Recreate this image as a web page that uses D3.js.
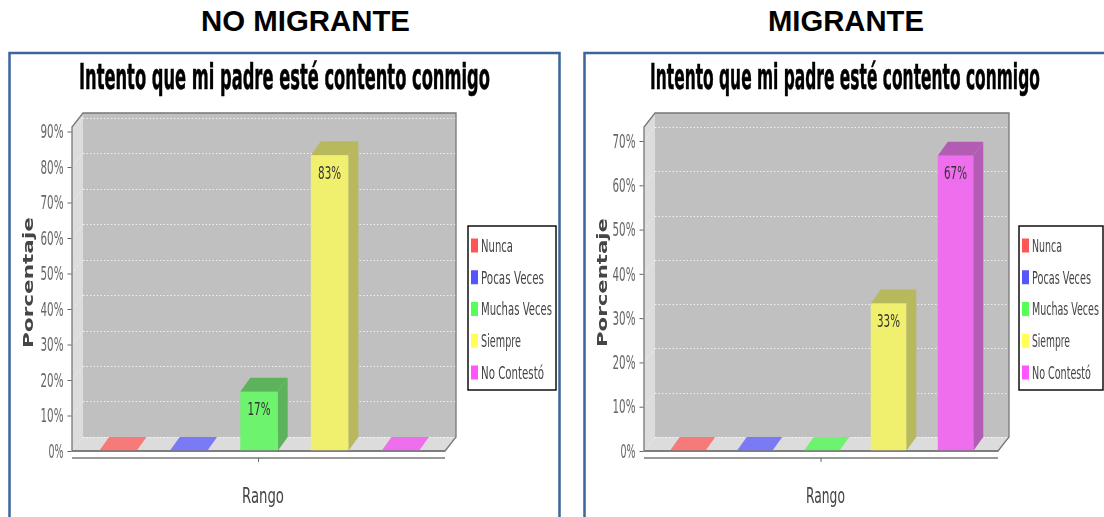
<!DOCTYPE html>
<html><head><meta charset="utf-8">
<style>html,body{margin:0;padding:0;background:#fff}svg{display:block}</style>
<script src="https://cdnjs.cloudflare.com/ajax/libs/d3/7.8.5/d3.min.js"></script>
</head><body>
<svg id="c" width="1104" height="517"></svg>
<script>
const categories = ["Nunca","Pocas Veces","Muchas Veces","Siempre","No Contestó"];
const headings = ["NO MIGRANTE","MIGRANTE"];
const chartTitle = "Intento que mi padre esté contento conmigo";
const valuesNoMigrante = [0,0,16.67,83.33,0];
const valuesMigrante = [0,0,0,33.33,66.67];
const labelsNoMigrante = ["","","17%","83%",""];
const labelsMigrante = ["","","","33%","67%"];
const ticksNoMigrante = [0,10,20,30,40,50,60,70,80,90];
const ticksMigrante = [0,10,20,30,40,50,60,70];
const frontColors = ["#f77a7a","#7a7af7","#6ef36e","#f0f06e","#ee6eee"];
const topColors = ["#f77a7a","#7a7af7","#5cb35c","#b8b85c","#b35cb3"];
const sideColors = ["#c46060","#6060c4","#5cb35c","#b8b85c","#b35cb3"];
const legendColors = ["#ff5555","#5555ff","#55ff55","#ffff55","#ff55ff"];

const layouts = [
 {panel:[9.5,53,550],head:[201,209],title:[79,411],x0:72,x1:445,barL:82.5,barR:435.5,yMax:90,yPx:[451,131.5],ylabel:[33,282.5,131],
  rango:[242,42],legend:[468,88,481],legendW:[32,63,71,40,63],values:valuesNoMigrante,labels:labelsNoMigrante,ticks:ticksNoMigrante},
 {panel:[584.5,53,560],head:[768,156],title:[650,390],x0:644,x1:998,barL:654,barR:989,yMax:70,yPx:[451,141],ylabel:[607,282.5,129],
  rango:[806,39],legend:[1019,84,1032],legendW:[30,59,67,38,59],values:valuesMigrante,labels:labelsMigrante,ticks:ticksMigrante}
];
const DX=11, DY=14;
const svg=d3.select("#c");
svg.append("defs").append("filter").attr("id","soft").attr("x","-5%").attr("y","-5%").attr("width","110%").attr("height","110%")
  .append("feGaussianBlur").attr("stdDeviation",0.45);
const SANS="'DejaVu Sans',sans-serif";
// squeeze a text horizontally to a target width, around its own x position
function fit(sel,w){
  sel.each(function(){
    const t=d3.select(this);
    const k=w/this.getComputedTextLength();
    const px=+t.attr("x")||0;
    const base=t.attr("transform")||"";
    t.attr("transform",`${base} translate(${px*(1-k)},0) scale(${k},1)`);
  });
}

layouts.forEach((L,li)=>{
  svg.append("text").text(headings[li]).attr("x",L.head[0]).attr("y",31.5)
    .attr("font-family","'Liberation Sans',Arial,sans-serif").attr("font-weight","bold").attr("font-size",29)
    .attr("fill","#000").call(fit,L.head[1]);
  svg.append("rect").attr("x",L.panel[0]).attr("y",L.panel[1]).attr("width",L.panel[2]).attr("height",520)
    .attr("fill","#fff").attr("stroke","#3d659c").attr("stroke-width",2.5);

  const g=svg.append("g").attr("filter","url(#soft)");
  g.append("text").text(chartTitle).attr("x",L.title[0]).attr("y",89)
    .attr("font-family",SANS).attr("font-weight","bold").attr("font-size",35)
    .attr("fill","#000").attr("stroke","#000").attr("stroke-width",0.6).call(fit,L.title[1]);

  const y=d3.scaleLinear().domain([0,L.yMax]).range(L.yPx);
  const x=d3.scaleBand().domain(categories).range([L.barL,L.barR]).paddingInner(0.47).paddingOuter(0.235);
  const bw=x.bandwidth();
  const bottom=y(0), wallTop=113, frontTop=wallTop+DY;

  // walls
  g.append("path").attr("d",`M${L.x0},${frontTop}L${L.x0+DX},${wallTop}V${bottom-DY}L${L.x0},${bottom}Z`).attr("fill","#dcdcdc");
  g.append("path").attr("d",`M${L.x0},${bottom}L${L.x0+DX},${bottom-DY}H${L.x1+DX}L${L.x1},${bottom}Z`).attr("fill","#dcdcdc");
  g.append("rect").attr("x",L.x0+DX).attr("y",wallTop).attr("width",L.x1-L.x0).attr("height",bottom-DY-wallTop).attr("fill","#c0c0c0");

  // gridlines
  L.ticks.forEach(t=>{
    const gy=Math.round(y(t)-DY)+0.5;
    if(t>0) g.append("line").attr("x1",L.x0).attr("x2",L.x0+DX).attr("y1",y(t)).attr("y2",y(t)-DY)
      .attr("stroke","#eee").attr("stroke-width",1).attr("stroke-dasharray","2,2");
    g.append("line").attr("x1",L.x0+DX).attr("x2",L.x1+DX).attr("y1",gy).attr("y2",gy)
      .attr("stroke","#fff").attr("stroke-opacity",0.75).attr("stroke-width",1.2).attr("stroke-dasharray","1.5,2");
  });
  // wall outline
  g.append("path").attr("d",`M${L.x0},${bottom}V${frontTop}L${L.x0+DX},${wallTop}H${L.x1+DX}V${bottom-DY}L${L.x1},${bottom}Z`)
    .attr("fill","none").attr("stroke","#777").attr("stroke-width",1.3);

  // bars
  const bars=g.selectAll("g.bar").data(categories.map((c,i)=>({c,i,v:L.values[i],l:L.labels[i]}))).join("g").attr("class","bar");
  bars.filter(d=>d.v>0).append("path")
    .attr("d",d=>`M${x(d.c)+bw},${y(d.v)}L${x(d.c)+bw+DX-1},${y(d.v)-DY}V${bottom-DY}L${x(d.c)+bw},${bottom}Z`)
    .attr("fill",d=>sideColors[d.i]);
  bars.append("path")
    .attr("d",d=>`M${x(d.c)},${y(d.v)}L${x(d.c)+DX-1},${y(d.v)-DY}H${x(d.c)+bw+DX-1}L${x(d.c)+bw},${y(d.v)}Z`)
    .attr("fill",d=>d.v>0?topColors[d.i]:frontColors[d.i]);
  bars.filter(d=>d.v>0).append("rect")
    .attr("x",d=>x(d.c)).attr("y",d=>y(d.v)).attr("width",bw).attr("height",d=>bottom-y(d.v))
    .attr("fill",d=>frontColors[d.i]);
  bars.filter(d=>d.l).append("text").text(d=>d.l)
    .attr("x",d=>x(d.c)+bw/2).attr("y",d=>y(d.v)+23.5).attr("text-anchor","middle")
    .attr("font-family",SANS).attr("font-size",18).attr("fill","#333").call(fit,23);

  // front axis base line
  g.append("line").attr("x1",L.x0).attr("x2",L.x1).attr("y1",bottom).attr("y2",bottom).attr("stroke","#777").attr("stroke-width",1.5);

  // y axis
  const ya=g.append("g").attr("transform",`translate(${L.x0-0.5},0)`)
    .call(d3.axisLeft(y).tickValues(L.ticks).tickFormat(d=>d+"%").tickSize(4).tickPadding(4));
  ya.select(".domain").remove();
  ya.selectAll(".tick line").attr("stroke","#666");
  ya.selectAll(".tick text").attr("font-family",SANS).attr("font-size",19.5).attr("fill","#666")
    .each(function(d){ d3.select(this).call(fit,String(d).length===2?23:15); });

  // x axis
  const xa=g.append("g").attr("transform",`translate(0,${bottom+7})`)
    .call(d3.axisBottom(d3.scalePoint().domain(["Rango"]).range([(L.x0+L.x1)/2-0.5,(L.x0+L.x1)/2-0.5])).tickFormat("").tickSize(4).tickSizeOuter(0));
  xa.select(".domain").attr("d",`M${L.x0},0H${L.x1}`).attr("stroke","#777").attr("stroke-width",1.5);
  xa.selectAll(".tick line").attr("stroke","#666");

  // axis titles
  g.append("text").text("Rango").attr("x",L.rango[0]).attr("y",503)
    .attr("font-family",SANS).attr("font-size",22).attr("fill","#444").call(fit,L.rango[1]);
  g.append("text").text("Porcentaje")
    .attr("transform",`translate(${L.ylabel[0]},${L.ylabel[1]}) rotate(-90)`).attr("text-anchor","middle")
    .attr("font-family",SANS).attr("font-weight","bold").attr("font-size",14)
    .attr("fill","#444").call(fit,L.ylabel[2]);

  // legend
  const lg=g.append("g");
  lg.append("rect").attr("x",L.legend[0]).attr("y",226).attr("width",L.legend[1]).attr("height",164)
    .attr("fill","#fff").attr("stroke","#111").attr("stroke-width",1.5);
  const ly=d3.scalePoint().domain(categories).range([245.5,372.5]);
  categories.forEach((c,i)=>{
    lg.append("rect").attr("x",L.legend[2]-10).attr("y",ly(c)-7).attr("width",7).attr("height",14).attr("fill",legendColors[i]);
    lg.append("text").text(c).attr("x",L.legend[2]).attr("y",ly(c)+6.5)
      .attr("font-family",SANS).attr("font-size",18).attr("fill","#444").call(fit,L.legendW[i]);
  });
});
</script>
</body></html>
